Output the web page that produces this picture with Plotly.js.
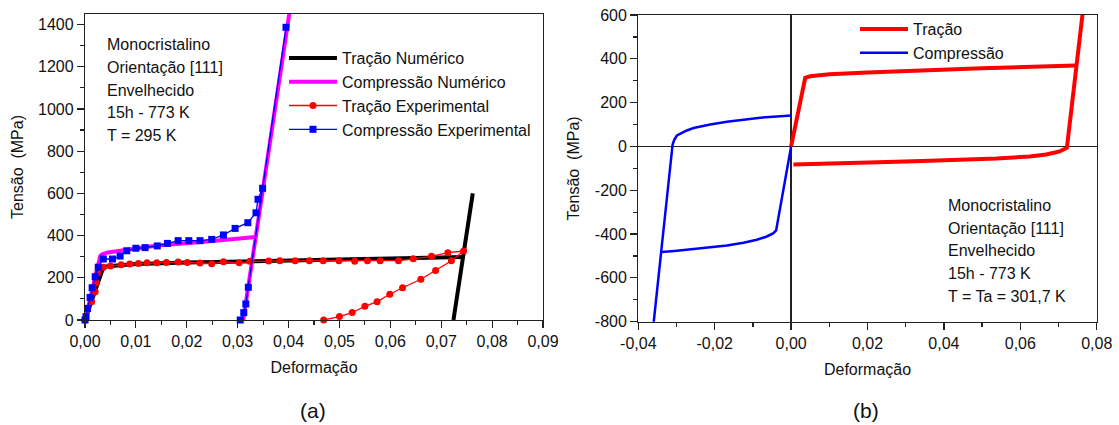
<!DOCTYPE html>
<html>
<head>
<meta charset="utf-8">
<script src="https://cdn.plot.ly/plotly-3.0.1.min.js"></script>
<style>html,body{margin:0;padding:0;background:#fff;}#chart{width:1119px;height:425px;}</style>
</head>
<body>
<div id="chart"></div>
<script>
// ---------- (a) data ----------
const tracNumX = [0, 0.0036, 0.0045, 0.006, 0.01, 0.02, 0.03, 0.04, 0.05, 0.06, 0.07, 0.0743, null, 0.0724, 0.0762];
const tracNumY = [0, 250, 255, 258, 265, 272, 278, 283, 287, 291, 296, 298, null, 0, 600];

const compNumX = [0, 0.003, 0.0033, 0.0045, 0.008, 0.0143, 0.024, 0.0335, null, 0.0311, 0.0402];
const compNumY = [0, 303, 310, 320, 332, 353, 372, 393, null, 0, 1460];

const tracExpX = [0, 0.0013, 0.002, 0.0022, 0.0025, 0.0036, 0.005, 0.0071, 0.0088, 0.0105, 0.0122, 0.0141, 0.016, 0.0183, 0.0201, 0.0226, 0.0249, 0.0272, 0.0303, 0.0324, 0.0361, 0.0383, 0.0413, 0.0441, 0.0468, 0.0499, 0.053, 0.0555, 0.058, 0.0616, 0.0645, 0.0681, 0.0713, 0.0744, 0.072, 0.0689, 0.066, 0.0624, 0.0599, 0.0574, 0.055, 0.0525, 0.05, 0.0469];
const tracExpY = [0, 87, 134, 177, 221, 250, 256, 262, 265, 268, 271, 271, 273, 275, 273, 270, 267, 276, 271, 278, 280, 281, 281, 281, 281, 281, 278, 281, 281, 281, 290, 302, 319, 327, 281, 235, 193, 153, 122, 87, 65, 35, 16, 0];

const compExpX = [0, 0.0002, 0.0005, 0.001, 0.0014, 0.002, 0.0026, 0.0036, 0.0054, 0.0069, 0.0082, 0.01, 0.0118, 0.0142, 0.0162, 0.0183, 0.0204, 0.0226, 0.0249, 0.0272, 0.0295, 0.032, 0.0336, 0.034, 0.0349, 0.0395, 0.0321, 0.0316, 0.0312, 0.0305];
const compExpY = [0, 16, 55, 107, 153, 205, 250, 289, 289, 303, 328, 340, 343, 351, 363, 376, 376, 376, 382, 403, 434, 461, 508, 572, 624, 1387, 155, 76, 35, 0];

// ---------- (b) data ----------
const tracBX = [0, 0.0037, 0.005, 0.01, 0.02, 0.036, 0.05, 0.0745, null,
  0.0006, 0.0102, 0.0189, 0.0276, 0.0363, 0.0451, 0.0538, 0.0625, 0.0668, 0.0703, 0.0722, 0.0764];
const tracBY = [0, 313, 320, 330, 338, 350, 357, 369, null,
  -82, -79, -74.5, -70, -65.3, -60.8, -54.8, -45.6, -36.5, -22.8, -6, 620];

const compBX = [0, -0.0016, -0.00392, -0.00462, -0.00636, -0.00898, -0.01246, -0.01682, -0.02118, -0.02553, -0.02989, -0.03381, null,
  -0.0362, -0.03102, -0.03059, -0.02989, -0.02858, -0.02728, -0.02553, -0.02336, -0.02118, -0.01682, -0.01246, -0.0081, -0.00375, 0];
const compBY = [0, -155, -383, -396, -411, -426, -440, -452, -461, -469, -476, -482, null,
  -840, 9, 30, 50, 62, 73, 84, 93, 100, 113, 123, 131, 137, 141];

// ---------- text & ticks ----------
const infoA = ["Monocristalino", "Orientação [111]", "Envelhecido", "15h - 773 K", "T = 295 K"];
const infoB = ["Monocristalino", "Orientação [111]", "Envelhecido", "15h - 773 K", "T = Ta = 301,7 K"];
const xTitle = "Deformação";
const yTitle = "Tensão\u00a0 (MPa)";
const bXTickVals = [-0.04, -0.02, 0, 0.02, 0.04, 0.06, 0.08];
const bXTickText = ["-0,04", "-0,02", "0,00", "0,02", "0,04", "0,06", "0,08"];
const bYTickVals = [-800, -600, -400, -200, 0, 200, 400, 600];
const bYTickText = ["-800", "-600", "-400", "-200", "0", "200", "400", "600"];

const W = 1119, H = 425;
const px = x => x / W;
const py = y => 1 - y / H;
const FONT = '"Liberation Sans", Arial, sans-serif';
const AX = '#222';

const traces = [
  {x: tracNumX, y: tracNumY, mode: 'lines', name: 'Tração Numérico', line: {color: '#000', width: 4}, xaxis: 'x', yaxis: 'y', legend: 'legend', connectgaps: false},
  {x: compNumX, y: compNumY, mode: 'lines', name: 'Compressão Numérico', line: {color: '#ff00ff', width: 4}, xaxis: 'x', yaxis: 'y', legend: 'legend', connectgaps: false},
  {x: tracExpX, y: tracExpY, mode: 'lines+markers', name: 'Tração Experimental', line: {color: '#ff0000', width: 1.3}, marker: {symbol: 'circle', size: 7, color: '#ff0000'}, xaxis: 'x', yaxis: 'y', legend: 'legend', cliponaxis: false},
  {x: compExpX, y: compExpY, mode: 'lines+markers', name: 'Compressão Experimental', line: {color: '#0000ff', width: 1.3}, marker: {symbol: 'square', size: 7, color: '#0000ff'}, xaxis: 'x', yaxis: 'y', legend: 'legend', cliponaxis: false},
  {x: tracBX, y: tracBY, mode: 'lines', name: 'Tração', line: {color: '#ff0000', width: 4}, xaxis: 'x2', yaxis: 'y2', legend: 'legend2', connectgaps: false},
  {x: compBX, y: compBY, mode: 'lines', name: 'Compressão', line: {color: '#0000ff', width: 2.5}, xaxis: 'x2', yaxis: 'y2', legend: 'legend2', connectgaps: false}
];

function axisBase() {
  return {
    showline: true, linecolor: AX, linewidth: 1.2, mirror: true,
    ticks: 'outside', ticklen: 7, tickwidth: 1.2, tickcolor: AX,
    showgrid: false, zeroline: false,
    tickfont: {family: FONT, size: 16, color: '#111'},
    title: {font: {family: FONT, size: 16, color: '#111'}},
    fixedrange: true
  };
}

const xa = Object.assign(axisBase(), {
  domain: [px(85), px(543)], range: [0, 0.09], dtick: 0.01, tick0: 0, tickformat: '.2f',
  minor: {dtick: 0.005, ticks: 'outside', ticklen: 4, tickcolor: AX, tickwidth: 1.2},
  anchor: 'y'
});
xa.title.text = xTitle; xa.title.standoff = 12;
const ya = Object.assign(axisBase(), {
  domain: [py(320), py(14)], range: [0, 1450], dtick: 200, tick0: 0,
  minor: {dtick: 100, ticks: 'outside', ticklen: 4, tickcolor: AX, tickwidth: 1.2},
  anchor: 'x'
});
ya.title.text = yTitle; ya.title.standoff = 10;

const xa2 = Object.assign(axisBase(), {
  domain: [px(638.3), px(1096.7)], range: [-0.04, 0.08], tickmode: 'array', tickvals: bXTickVals, ticktext: bXTickText,
  minor: {dtick: 0.01, tick0: 0, ticks: 'outside', ticklen: 4, tickcolor: AX, tickwidth: 1.2},
  zeroline: true, zerolinecolor: AX, zerolinewidth: 1.2,
  anchor: 'y2'
});
xa2.title.text = xTitle; xa2.title.standoff = 12;
const ya2 = Object.assign(axisBase(), {
  domain: [py(321.7), py(15)], range: [-800, 600], tickmode: 'array', tickvals: bYTickVals, ticktext: bYTickText,
  minor: {dtick: 100, tick0: 0, ticks: 'outside', ticklen: 4, tickcolor: AX, tickwidth: 1.2},
  zeroline: true, zerolinecolor: AX, zerolinewidth: 1.2,
  anchor: 'x2'
});
ya2.title.text = yTitle; ya2.title.standoff = 11;

const annotations = [];
const infoAY = [45, 67.5, 90, 112.5, 135];
infoA.forEach((t, i) => annotations.push({text: t, xref: 'paper', yref: 'paper', x: px(105), y: py(infoAY[i]), xanchor: 'left', yanchor: 'middle', showarrow: false, font: {family: FONT, size: 16, color: '#111'}}));
const infoBY = [205, 228, 250.5, 273, 296];
infoB.forEach((t, i) => annotations.push({text: t, xref: 'paper', yref: 'paper', x: px(946), y: py(infoBY[i]), xanchor: 'left', yanchor: 'middle', showarrow: false, font: {family: FONT, size: 16, color: '#111'}}));
annotations.push({text: '(a)', xref: 'paper', yref: 'paper', x: px(313), y: py(410), xanchor: 'center', yanchor: 'middle', showarrow: false, font: {family: FONT, size: 21, color: '#111'}});
annotations.push({text: '(b)', xref: 'paper', yref: 'paper', x: px(866), y: py(410), xanchor: 'center', yanchor: 'middle', showarrow: false, font: {family: FONT, size: 21, color: '#111'}});

const layout = {
  width: W, height: H,
  margin: {l: 0, r: 0, t: 0, b: 0},
  paper_bgcolor: '#fff', plot_bgcolor: '#fff',
  separators: ', ',
  showlegend: true,
  font: {family: FONT, size: 16, color: '#111'},
  xaxis: xa, yaxis: ya, xaxis2: xa2, yaxis2: ya2,
  legend: {x: px(284), y: py(41), xanchor: 'left', yanchor: 'top', bgcolor: 'rgba(0,0,0,0)', borderwidth: 0, itemwidth: 48, font: {family: FONT, size: 16, color: '#111'}, tracegroupgap: 0},
  legend2: {x: px(855), y: py(12), xanchor: 'left', yanchor: 'top', bgcolor: 'rgba(0,0,0,0)', borderwidth: 0, itemwidth: 48, font: {family: FONT, size: 16, color: '#111'}, tracegroupgap: 0},
  annotations: annotations
};

Plotly.newPlot('chart', traces, layout, {displayModeBar: false, staticPlot: true});
</script>
</body>
</html>
